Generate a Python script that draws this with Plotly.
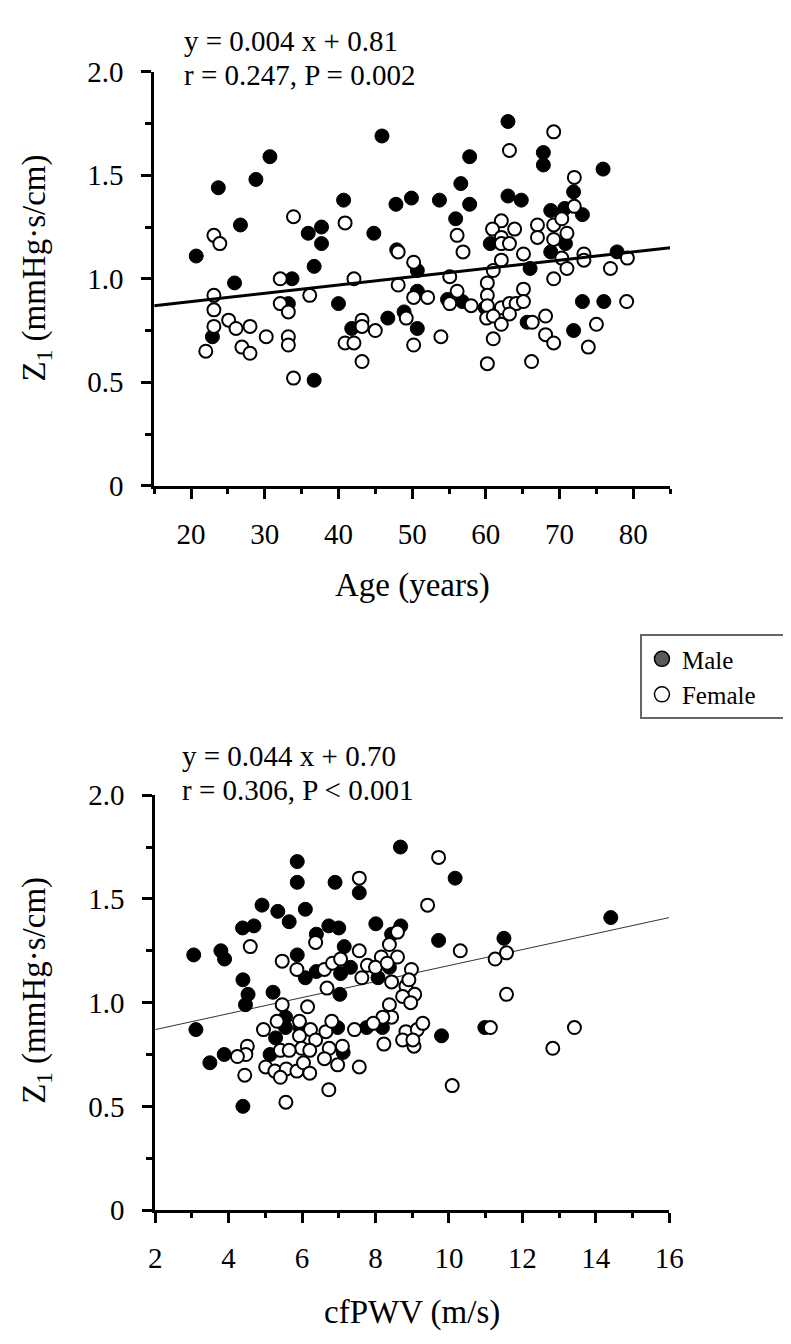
import plotly.graph_objects as go

# ---------------- data ----------------
# Top panel: Age (years) vs Z1
age_male = [45.9, 30.7, 28.8, 23.7, 26.7, 20.7, 40.7, 47.8, 49.9, 35.9, 37.7, 37.7, 44.8, 36.7,
            25.9, 33.7, 47.9, 33.2, 40.0, 46.7, 48.9, 41.8, 22.9, 36.7, 50.7, 50.7, 50.7,
            63.0, 67.8, 67.8, 57.8, 75.9, 56.6, 53.7, 57.8, 63.0, 64.8, 55.9, 71.9, 68.8, 70.7,
            73.1, 60.6, 70.8, 68.8, 77.8, 66.0, 54.8, 56.8, 59.9, 73.1, 76.0, 65.6, 71.9]
z_age_male = [1.69, 1.59, 1.48, 1.44, 1.26, 1.11, 1.38, 1.36, 1.39, 1.22, 1.25, 1.17, 1.22, 1.06,
              0.98, 1.00, 1.14, 0.88, 0.88, 0.81, 0.84, 0.76, 0.72, 0.51, 0.76, 1.04, 0.94,
              1.76, 1.61, 1.55, 1.59, 1.53, 1.46, 1.38, 1.36, 1.40, 1.38, 1.29, 1.42, 1.33, 1.34,
              1.31, 1.17, 1.17, 1.13, 1.13, 1.05, 0.90, 0.89, 0.86, 0.89, 0.89, 0.79, 0.75]

age_female = [33.9, 40.9, 23.1, 23.9, 50.2, 32.1, 42.1, 48.1, 48.1, 23.1, 36.1, 50.2, 23.1, 32.1,
              33.2, 25.1, 23.1, 26.1, 28.0, 43.2, 43.2, 45.0, 49.2, 30.2, 33.2, 33.2, 40.9, 42.1,
              22.0, 26.9, 28.0, 43.2, 33.9, 50.2,
              69.2, 63.2, 72.0, 72.0, 56.1, 56.9, 62.1, 60.9, 63.9, 62.1, 62.1, 63.2, 67.0, 67.0,
              69.2, 70.3, 69.2, 71.0, 65.1, 62.1, 61.0, 70.3, 73.3, 73.3, 71.0, 76.9, 79.2, 55.1,
              69.2, 60.2, 60.2, 56.1, 65.1, 52.1, 55.1, 58.0, 60.2, 62.1, 63.2, 64.1, 65.1, 63.2,
              60.1, 61.0, 62.1, 66.3, 68.1, 68.1, 69.2, 75.0, 79.1, 73.9, 61.0, 53.9, 60.2, 66.2]
z_age_female = [1.30, 1.27, 1.21, 1.17, 1.08, 1.00, 1.00, 0.97, 1.13, 0.92, 0.92, 0.91, 0.85, 0.88,
                0.84, 0.80, 0.77, 0.76, 0.77, 0.80, 0.77, 0.75, 0.81, 0.72, 0.72, 0.68, 0.69, 0.69,
                0.65, 0.67, 0.64, 0.60, 0.52, 0.68,
                1.71, 1.62, 1.49, 1.35, 1.21, 1.13, 1.28, 1.24, 1.24, 1.20, 1.17, 1.17, 1.26, 1.20,
                1.26, 1.29, 1.19, 1.22, 1.12, 1.09, 1.04, 1.10, 1.12, 1.09, 1.05, 1.05, 1.10, 1.01,
                1.00, 0.98, 0.92, 0.94, 0.95, 0.91, 0.88, 0.87, 0.87, 0.86, 0.88, 0.88, 0.89, 0.83,
                0.81, 0.82, 0.78, 0.79, 0.82, 0.73, 0.69, 0.78, 0.89, 0.67, 0.71, 0.72, 0.59, 0.60]

# Bottom panel: cfPWV (m/s) vs Z1
pwv_male = [5.87, 5.87, 6.90, 4.91, 5.34, 5.65, 6.09, 4.38, 4.69, 6.73, 7.00, 6.39, 3.05, 3.79,
            3.89, 5.87, 6.09, 6.39, 7.05, 7.03, 7.15, 4.39, 4.53, 4.46, 5.21, 3.11, 5.28, 5.55,
            5.55, 5.95, 5.13, 3.49, 3.88, 4.39, 6.97, 7.12,
            8.68, 10.17, 7.56, 14.41, 8.01, 8.69, 8.44, 9.72, 11.50, 7.32, 8.07, 8.38, 7.76, 8.19,
            9.80, 10.98]
z_pwv_male = [1.68, 1.58, 1.58, 1.47, 1.44, 1.39, 1.45, 1.36, 1.37, 1.37, 1.36, 1.33, 1.23, 1.25,
              1.21, 1.23, 1.12, 1.15, 1.14, 1.04, 1.27, 1.11, 1.04, 0.99, 1.05, 0.87, 0.83, 0.88,
              0.93, 0.88, 0.75, 0.71, 0.75, 0.50, 0.88, 0.76,
              1.75, 1.60, 1.53, 1.41, 1.38, 1.37, 1.33, 1.30, 1.31, 1.17, 1.12, 1.17, 0.88, 0.88,
              0.84, 0.88]

pwv_female = [4.59, 6.37, 5.46, 5.86, 6.61, 6.83, 7.05, 6.68, 5.46, 6.15, 5.32, 4.95, 5.93, 6.23,
              5.93, 6.37, 6.65, 6.81, 5.99, 6.74, 7.10, 4.51, 4.47, 4.24, 5.41, 5.65, 6.21, 5.01,
              5.26, 5.57, 5.41, 5.86, 6.04, 6.21, 6.61, 6.97, 4.44, 6.73, 5.56,
              9.72, 7.56, 9.42, 8.60, 8.38, 7.56, 10.31, 8.16, 8.60, 7.78, 8.00, 8.32, 8.98, 7.63,
              8.44, 8.83, 8.91, 9.07, 8.74, 8.96, 11.26, 11.57, 11.57, 8.38, 8.44, 8.20, 7.43, 7.94,
              8.23, 8.83, 9.14, 9.29, 8.74, 9.05, 9.02, 11.13, 13.42, 12.83, 10.09, 7.56]
z_pwv_female = [1.27, 1.29, 1.20, 1.16, 1.16, 1.19, 1.21, 1.07, 0.99, 0.98, 0.91, 0.87, 0.91, 0.87,
                0.84, 0.82, 0.86, 0.91, 0.78, 0.78, 0.79, 0.79, 0.75, 0.74, 0.77, 0.77, 0.77, 0.69,
                0.67, 0.68, 0.64, 0.67, 0.71, 0.66, 0.73, 0.70, 0.65, 0.58, 0.52,
                1.70, 1.60, 1.47, 1.34, 1.28, 1.25, 1.25, 1.22, 1.22, 1.18, 1.17, 1.19, 1.16, 1.12,
                1.10, 1.08, 1.11, 1.04, 1.03, 1.00, 1.21, 1.24, 1.04, 0.99, 0.93, 0.93, 0.87, 0.90,
                0.80, 0.86, 0.87, 0.90, 0.82, 0.79, 0.82, 0.88, 0.88, 0.78, 0.60, 0.69]

# regression lines (end points as drawn)
fit_age_x = [15, 85]
fit_age_y = [0.87, 1.15]
fit_pwv_x = [2, 16]
fit_pwv_y = [0.87, 1.41]

age_ticks = [20, 30, 40, 50, 60, 70, 80]
age_minor = [15, 25, 35, 45, 55, 65, 75, 85]
pwv_ticks = [2, 4, 6, 8, 10, 12, 14, 16]
pwv_minor = [3, 5, 7, 9, 11, 13, 15]
z_ticks = [0, 0.5, 1.0, 1.5, 2.0]
z_ticktext = ["0", "0.5", "1.0", "1.5", "2.0"]
z_minor = [0.25, 0.75, 1.25, 1.75]

eq_top = ["y = 0.004 x + 0.81", "r = 0.247, P = 0.002"]
eq_bot = ["y = 0.044 x + 0.70", "r = 0.306, P < 0.001"]
legend_names = ["Male", "Female"]

# ---------------- figure ----------------
W, H = 791, 1344
FONT = "Liberation Serif"

def px(x):
    return x / W

def py(y):
    return (H - y) / H

fig = go.Figure()

male_marker = dict(color="black", size=14, line=dict(color="black", width=1))
female_marker = dict(color="white", size=13, line=dict(color="black", width=2))

# top panel
fig.add_trace(go.Scatter(x=age_male, y=z_age_male, mode="markers", marker=male_marker,
                         showlegend=False, xaxis="x", yaxis="y"))
fig.add_trace(go.Scatter(x=age_female, y=z_age_female, mode="markers", marker=female_marker,
                         showlegend=False, xaxis="x", yaxis="y"))
fig.add_trace(go.Scatter(x=fit_age_x, y=fit_age_y, mode="lines", line=dict(color="black", width=3),
                         showlegend=False, xaxis="x", yaxis="y"))

# bottom panel
fig.add_trace(go.Scatter(x=fit_pwv_x, y=fit_pwv_y, mode="lines", line=dict(color="#333333", width=1),
                         showlegend=False, xaxis="x2", yaxis="y2"))
fig.add_trace(go.Scatter(x=pwv_male, y=z_pwv_male, mode="markers", marker=male_marker,
                         showlegend=False, xaxis="x2", yaxis="y2"))
fig.add_trace(go.Scatter(x=pwv_female, y=z_pwv_female, mode="markers", marker=female_marker,
                         showlegend=False, xaxis="x2", yaxis="y2"))

# legend entries (padded with non-breaking spaces to widen the box)
pad = "\u00a0" * 5
fig.add_trace(go.Scatter(x=[None], y=[None], mode="markers", name=legend_names[0] + pad,
                         marker=dict(color="#5a5a5a", size=15, line=dict(color="black", width=1.5)),
                         xaxis="x", yaxis="y"))
fig.add_trace(go.Scatter(x=[None], y=[None], mode="markers", name=legend_names[1] + pad,
                         marker=dict(color="white", size=15, line=dict(color="black", width=1.5)),
                         xaxis="x", yaxis="y"))

axis_common = dict(showline=True, linecolor="black", linewidth=3, showgrid=False, zeroline=False,
                   ticks="outside", tickcolor="black", tickwidth=3, ticklen=10,
                   tickfont=dict(family=FONT, size=29, color="black"))

fig.update_layout(
    width=W, height=H,
    margin=dict(l=0, r=0, t=0, b=0),
    paper_bgcolor="white", plot_bgcolor="white",
    font=dict(family=FONT, color="black"),
    xaxis=dict(domain=[px(143), px(673)], range=[15, 85], anchor="y",
               tickmode="array", tickvals=age_ticks, ticklabelstandoff=10,
               minor=dict(tickmode="array", tickvals=age_minor, ticks="outside", ticklen=5,
                          tickwidth=3, tickcolor="black"),
               **axis_common),
    yaxis=dict(domain=[py(473), py(49)], range=[0, 2], anchor="x",
               tickmode="array", tickvals=z_ticks, ticktext=z_ticktext, ticklabelstandoff=12,
               minor=dict(tickmode="array", tickvals=z_minor, ticks="outside", ticklen=6,
                          tickwidth=3, tickcolor="black"),
               **axis_common),
    xaxis2=dict(domain=[px(144), px(672)], range=[2, 16], anchor="y2",
                tickmode="array", tickvals=pwv_ticks, ticklabelstandoff=10,
                minor=dict(tickmode="array", tickvals=pwv_minor, ticks="outside", ticklen=5,
                           tickwidth=3, tickcolor="black"),
                **axis_common),
    yaxis2=dict(domain=[py(1215), py(790)], range=[0, 2], anchor="x2",
                tickmode="array", tickvals=z_ticks, ticktext=z_ticktext, ticklabelstandoff=12,
                minor=dict(tickmode="array", tickvals=z_minor, ticks="outside", ticklen=6,
                           tickwidth=3, tickcolor="black"),
                **axis_common),
    legend=dict(x=px(642), y=py(625), xanchor="left", yanchor="top",
                bordercolor="#666666", borderwidth=2, bgcolor="white",
                font=dict(family=FONT, size=25, color="black"),
                itemwidth=30, tracegroupgap=0),
)

annotations = []
for t, yc in zip(eq_top, [17, 52]):
    annotations.append(dict(text=t, x=px(172), y=py(yc), xref="paper", yref="paper",
                            xanchor="left", yanchor="middle", showarrow=False,
                            font=dict(family=FONT, size=29, color="black")))
for t, yc in zip(eq_bot, [750, 785]):
    annotations.append(dict(text=t, x=px(170), y=py(yc), xref="paper", yref="paper",
                            xanchor="left", yanchor="middle", showarrow=False,
                            font=dict(family=FONT, size=29, color="black")))
# axis titles
for t, yc in [("Age (years)", 575), ("cfPWV (m/s)", 1320)]:
    annotations.append(dict(text=t, x=px(408), y=py(yc), xref="paper", yref="paper",
                            xanchor="center", yanchor="middle", showarrow=False,
                            font=dict(family=FONT, size=33, color="black")))
for yc in [250, 990]:
    annotations.append(dict(text="Z<sub>1</sub> (mmHg·s/cm)", x=px(22), y=py(yc),
                            xref="paper", yref="paper", xanchor="center", yanchor="middle",
                            textangle=-90, showarrow=False,
                            font=dict(family=FONT, size=33, color="black")))
fig.update_layout(annotations=annotations)

fig.write_html("out.html")
